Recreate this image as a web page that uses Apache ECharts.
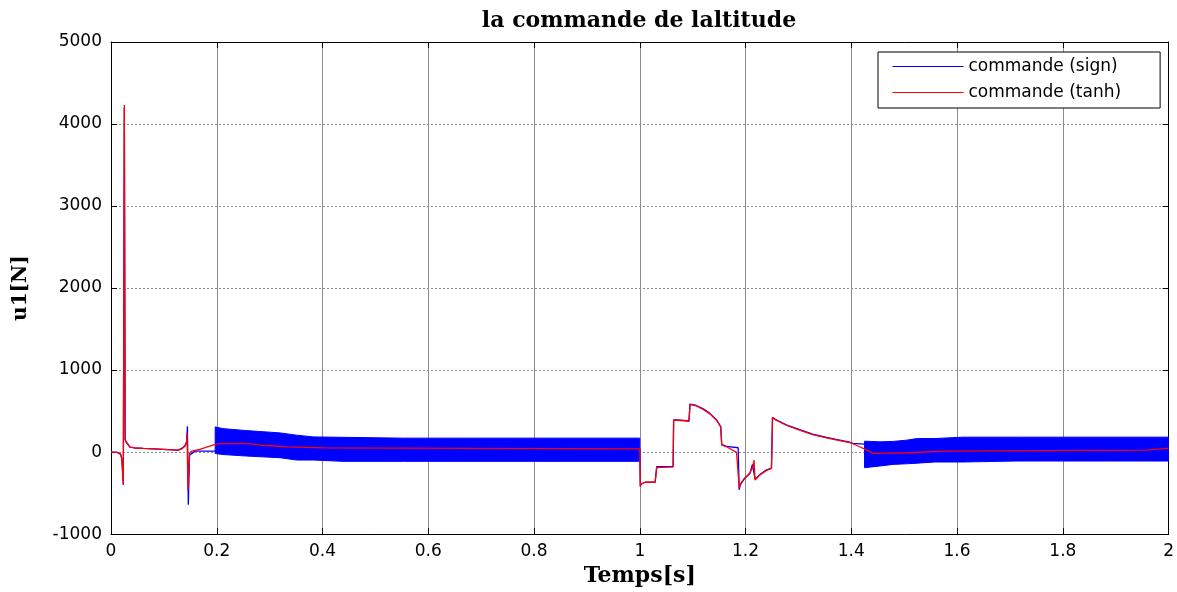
<!DOCTYPE html>
<html>
<head>
<meta charset="utf-8">
<script src="https://cdn.jsdelivr.net/npm/echarts@6/dist/echarts.min.js"></script>
<style>
html,body{margin:0;padding:0;background:#fff;}
#chart{width:1177px;height:592px;}
</style>
</head>
<body>
<div id="chart"></div>
<script>
// ---- Data ----
const titleText = 'la commande de laltitude';
const xName = 'Temps[s]';
const yName = 'u1[N]';
const seriesNames = ['commande (sign)', 'commande (tanh)'];
const xTicks = [0, 0.2, 0.4, 0.6, 0.8, 1, 1.2, 1.4, 1.6, 1.8, 2];
const yTicks = [-1000, 0, 1000, 2000, 3000, 4000, 5000];

// commande (tanh) - red
const tanhT = [0, 0.012, 0.018, 0.0205, 0.0233, 0.0252, 0.0268, 0.029, 0.031, 0.036, 0.045, 0.061, 0.064, 0.127, 0.134, 0.140, 0.143, 0.1438, 0.1455, 0.1487, 0.153, 0.168, 0.181, 0.197, 0.206, 0.259, 0.262, 0.294, 0.297, 0.332, 0.335, 0.404, 0.407, 1.0,
  1.001, 1.002, 1.010, 1.029, 1.032, 1.063, 1.064, 1.072, 1.074, 1.093, 1.095, 1.098, 1.107, 1.120, 1.132, 1.145, 1.153, 1.155, 1.164, 1.183, 1.188, 1.190, 1.198, 1.208, 1.214, 1.216, 1.218, 1.227, 1.239, 1.249, 1.251, 1.258, 1.277, 1.302, 1.327, 1.353, 1.378, 1.397, 1.416, 1.429, 1.441, 1.470, 1.507, 1.509, 1.579, 1.581, 1.958, 1.960, 1.980, 1.982, 2.0];
const tanhV = [0, -3, -25, -80, -393, 4233, 150, 120, 101, 61, 50, 44, 24, 24, 40, 70, 113, 230, -473, -10, 12, 32, 61, 93, 104, 104, 80, 80, 64, 64, 52, 52, 40, 40,
  -420, -392, -368, -368, -190, -180, 388, 388, 376, 376, 582, 590, 562, 521, 469, 388, 307, 85, 65, -4, -440, -392, -319, -259, -178, -97, -340, -279, -226, -198, 420, 388, 327, 267, 214, 174, 141, 117, 65, 24, -16, -12, -8, 12, 12, 24, 24, 36, 36, 48, 48];

// commande (sign) - blue, smooth parts
const signT = [0, 0.012, 0.018, 0.0205, 0.0233, 0.0252, 0.0268, 0.029, 0.031, 0.036, 0.045, 0.061, 0.064, 0.127, 0.134, 0.140, 0.143, 0.1445, 0.1462, 0.1485, 0.159, 0.197, 1.0,
  1.001, 1.002, 1.010, 1.029, 1.032, 1.063, 1.064, 1.072, 1.074, 1.093, 1.095, 1.098, 1.107, 1.120, 1.132, 1.145, 1.153, 1.155, 1.164, 1.186, 1.188, 1.190, 1.198, 1.208, 1.213, 1.218, 1.227, 1.239, 1.249, 1.251, 1.258, 1.277, 1.302, 1.327, 1.353, 1.378, 1.397, 1.403, 1.425, 2.0];
const signV = [0, -3, -25, -80, -400, 4200, 150, 120, 101, 61, 50, 44, 24, 24, 45, 80, 130, 315, -642, -37, 12, 12, 40,
  -420, -392, -368, -368, -178, -178, 392, 392, 380, 380, 585, 594, 568, 527, 475, 395, 312, 90, 70, 53, -460, -400, -325, -262, -150, -330, -275, -220, -195, 425, 392, 333, 273, 220, 180, 146, 120, 105, 97, 30];

// commande (sign) - chattering bands (upper / lower envelope)
const bandA_T = [0.197, 0.212, 0.256, 0.320, 0.351, 0.383, 0.439, 0.553, 1.0];
const bandA_Top = [307, 286, 262, 234, 206, 185, 180, 170, 170];
const bandA_Bot = [-17, -30, -48, -69, -97, -97, -113, -113, -113];
const bandB_T = [1.425, 1.454, 1.479, 1.504, 1.525, 1.558, 1.611, 1.712, 2.0];
const bandB_Top = [133, 125, 130, 145, 165, 165, 182, 182, 182];
const bandB_Bot = [-190, -170, -150, -143, -135, -121, -121, -109, -109];

// ---- Build ----
const zip = (a, b) => a.map((v, i) => [v, b[i]]);
const bands = [
  {t: bandA_T, top: bandA_Top, bot: bandA_Bot},
  {t: bandB_T, top: bandB_Top, bot: bandB_Bot}
];

const chart = echarts.init(document.getElementById('chart'), null, {renderer: 'canvas'});
const labelFont = {fontFamily: 'DejaVu Sans', fontSize: 17, color: '#000'};
const nameFont = {fontFamily: 'DejaVu Serif', fontWeight: 'bold', fontSize: 20, color: '#000'};
const fmtX = v => String(+(+v).toFixed(1));
const fmtY = v => String(Math.round(v));

chart.setOption({
  animation: false,
  backgroundColor: '#fff',
  title: {
    text: titleText,
    left: 634, top: 5, textAlign: 'center',
    textStyle: {fontFamily: 'DejaVu Serif', fontWeight: 'bold', fontSize: 22, color: '#000'}
  },
  grid: {left: 111, right: 8, top: 42, bottom: 55, containLabel: false},
  legend: {
    data: seriesNames,
    orient: 'vertical',
    left: 878, top: 52,
    padding: [6, 39, 7, 14],
    itemWidth: 71, itemHeight: 14, itemGap: 9,
    itemStyle: {opacity: 0, borderWidth: 0},
    lineStyle: {width: 1},
    backgroundColor: '#fff', borderColor: '#000', borderWidth: 1, borderRadius: 0,
    textStyle: {fontFamily: 'DejaVu Sans', fontSize: 17, color: '#000'},
    selectedMode: false, z: 10
  },
  xAxis: [{
    type: 'value', min: xTicks[0], max: xTicks[xTicks.length - 1], interval: 0.2,
    position: 'bottom',
    name: xName, nameLocation: 'middle', nameGap: 29,
    nameTextStyle: Object.assign({}, nameFont, {fontSize: 22}),
    axisLine: {show: true, onZero: false, lineStyle: {color: '#000', width: 1}},
    axisTick: {show: true, inside: true, length: 6, lineStyle: {color: '#000'}},
    axisLabel: Object.assign({margin: 9, formatter: fmtX}, labelFont),
    splitLine: {show: true, lineStyle: {color: '#8c8c8c', width: 1, type: 'solid'}}
  }, {
    type: 'value', min: xTicks[0], max: xTicks[xTicks.length - 1], interval: 0.2,
    position: 'top',
    axisLine: {show: true, onZero: false, lineStyle: {color: '#000', width: 1}},
    axisTick: {show: true, inside: true, length: 6, lineStyle: {color: '#000'}},
    axisLabel: {show: false}, splitLine: {show: false}
  }],
  yAxis: [{
    type: 'value', min: yTicks[0], max: yTicks[yTicks.length - 1], interval: 1000,
    position: 'left',
    name: yName, nameLocation: 'middle', nameGap: 80, nameTextStyle: nameFont,
    axisLine: {show: true, onZero: false, lineStyle: {color: '#000', width: 1}},
    axisTick: {show: true, inside: true, length: 6, lineStyle: {color: '#000'}},
    axisLabel: Object.assign({margin: 9, formatter: fmtY}, labelFont),
    splitLine: {show: true, lineStyle: {color: '#8c8c8c', width: 1, type: [2, 2]}}
  }, {
    type: 'value', min: yTicks[0], max: yTicks[yTicks.length - 1], interval: 1000,
    position: 'right',
    axisLine: {show: true, onZero: false, lineStyle: {color: '#000', width: 1}},
    axisTick: {show: true, inside: true, length: 6, lineStyle: {color: '#000'}},
    axisLabel: {show: false}, splitLine: {show: false}
  }],
  series: [{
    name: 'sign chattering',
    type: 'custom',
    xAxisIndex: 0, yAxisIndex: 0,
    clip: true,
    data: [[0.6, 0], [1.7, 0]],
    encode: {x: 0, y: 1},
    renderItem: function (params, api) {
      const b = bands[params.dataIndex];
      const pts = [];
      for (let i = 0; i < b.t.length; i++) pts.push(api.coord([b.t[i], b.top[i]]));
      for (let i = b.t.length - 1; i >= 0; i--) pts.push(api.coord([b.t[i], b.bot[i]]));
      return {type: 'polygon', shape: {points: pts}, style: {fill: '#0000ff', stroke: '#0000ff', lineWidth: 1}};
    }
  }, {
    name: seriesNames[0],
    type: 'line', xAxisIndex: 0, yAxisIndex: 0,
    data: zip(signT, signV),
    symbol: 'none', clip: true,
    lineStyle: {color: '#0000ff', width: 1.3},
    itemStyle: {color: '#0000ff'}
  }, {
    name: seriesNames[1],
    type: 'line', xAxisIndex: 0, yAxisIndex: 0,
    data: zip(tanhT, tanhV),
    symbol: 'none', clip: true,
    lineStyle: {color: '#ff0000', width: 1.3},
    itemStyle: {color: '#ff0000'}
  }]
});
</script>
</body>
</html>
